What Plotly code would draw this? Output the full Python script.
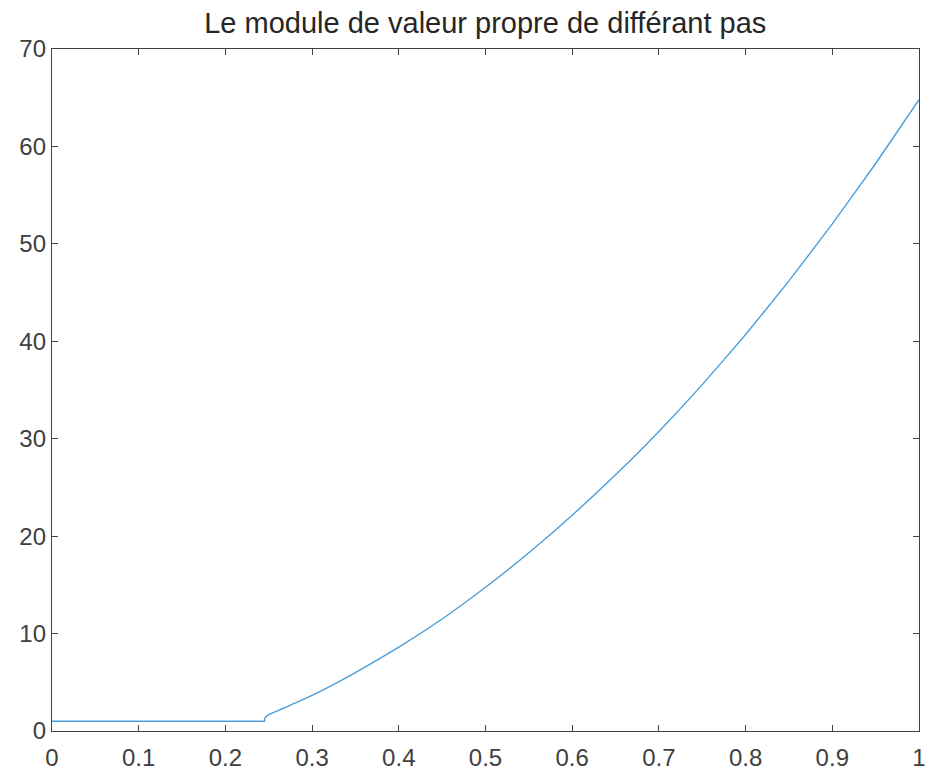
import plotly.graph_objects as go

h = [0.0, 0.1, 0.2, 0.24, 0.245, 0.2455, 0.25, 0.26, 0.27, 0.28, 0.3, 0.35, 0.4, 0.45, 0.5,
     0.55, 0.6, 0.65, 0.7, 0.75, 0.8, 0.85, 0.9, 0.95, 1.0]
module = [1.0, 1.0, 1.0, 1.0, 1.0, 1.35, 1.68, 2.07, 2.45, 2.85, 3.65, 6.0, 8.6, 11.5, 14.75,
          18.3, 22.15, 26.3, 30.75, 35.55, 40.7, 46.2, 52.05, 58.25, 64.8]

x_ticks = [0, 0.1, 0.2, 0.3, 0.4, 0.5, 0.6, 0.7, 0.8, 0.9, 1]
x_labels = ["0", "0.1", "0.2", "0.3", "0.4", "0.5", "0.6", "0.7", "0.8", "0.9", "1"]
y_ticks = [0, 10, 20, 30, 40, 50, 60, 70]

title = "Le module de valeur propre de différant pas"

fig = go.Figure()
fig.add_trace(go.Scatter(x=h, y=module, mode="lines",
                         line=dict(color="#4a9edb", width=1.4, shape="spline", smoothing=0.4),
                         showlegend=False))

axis_common = dict(showgrid=False, zeroline=False, showline=True, linecolor="#404040",
                   linewidth=1.3, mirror="ticks", ticks="inside", ticklen=6,
                   tickcolor="#404040", tickwidth=1.3, automargin=False,
                   tickfont=dict(family="Liberation Sans, Arial", size=24, color="#404040"))

fig.update_layout(
    width=927, height=774,
    margin=dict(l=52, r=8, t=49, b=43),
    paper_bgcolor="white", plot_bgcolor="white",
    title=dict(text=title, x=0.5235, xanchor="center", y=0.970, yanchor="middle",
               font=dict(family="Liberation Sans, Arial", size=29, color="#262626")),
    xaxis=dict(range=[0, 1], tickvals=x_ticks, ticktext=x_labels, ticklabelstandoff=5,
               **axis_common),
    yaxis=dict(range=[0, 70], tickvals=y_ticks, **axis_common),
)

fig.write_html("out.html")
